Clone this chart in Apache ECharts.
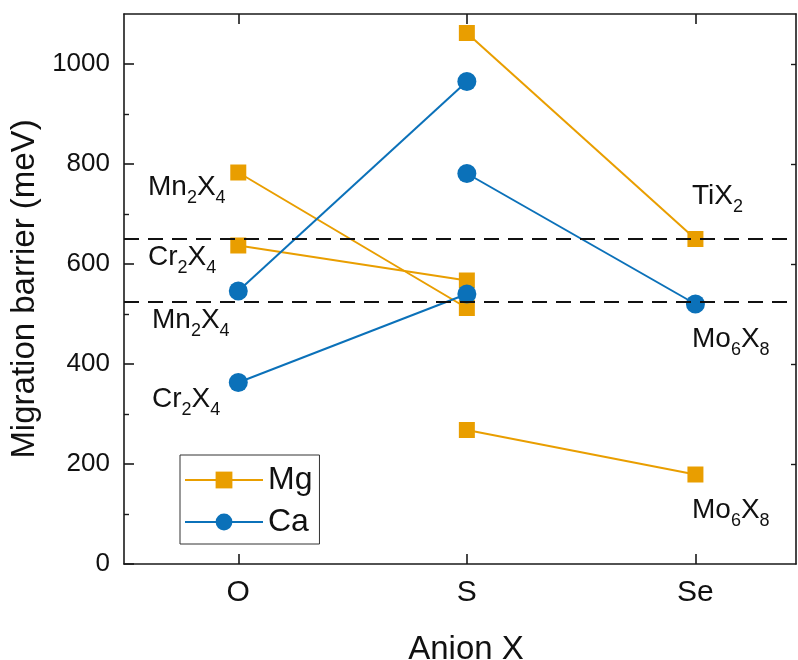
<!DOCTYPE html>
<html>
<head>
<meta charset="utf-8">
<script src="https://cdn.jsdelivr.net/npm/echarts@6/dist/echarts.min.js"></script>
<style>
  html, body { margin: 0; padding: 0; background: #fff; }
  #chart { width: 798px; height: 660px; }
</style>
</head>
<body>
<div id="chart"></div>
<script>
// ---- Data ----
const anions = ['O', 'S', 'Se'];
// Mg (squares)
const mgMn2X4 = [783, 512, null];
const mgCr2X4 = [637, 567, null];
const mgTiX2  = [null, 1062, 650];
const mgMo6X8 = [null, 268, 179];
// Ca (circles)
const caMn2X4 = [546, 965, null];
const caCr2X4 = [363, 540, null];
const caMo6X8 = [null, 781, 520];
// Dashed reference levels
const thresholds = [650, 525];
// Y tick labels
const yTickValues = [0, 200, 400, 600, 800, 1000];

const FONT = '"Liberation Sans", Arial, sans-serif';
const ORANGE = '#E99E00';
const BLUE = '#0B71B9';
const AXIS = '#1a1a1a';

function pts(arr) {
  const out = [];
  arr.forEach((v, i) => { if (v !== null) out.push([i + 1, v]); });
  return out;
}

function mgSeries(arr) {
  return {
    name: 'Mg', type: 'line', data: pts(arr),
    symbol: 'rect', symbolSize: 16,
    itemStyle: { color: ORANGE },
    lineStyle: { color: ORANGE, width: 2 },
    z: 3
  };
}
function caSeries(arr) {
  return {
    name: 'Ca', type: 'line', data: pts(arr),
    symbol: 'circle', symbolSize: 19,
    itemStyle: { color: BLUE },
    lineStyle: { color: BLUE, width: 2 },
    z: 4
  };
}

const subRich = {
  b: { fontSize: 28, fontFamily: FONT, color: '#111', verticalAlign: 'middle' },
  s: { fontSize: 18, fontFamily: FONT, color: '#111', padding: [22, 0, 0, 0], verticalAlign: 'middle' }
};
function label(text, x, y) {
  return {
    type: 'text', x: x, y: y, z: 100,
    style: { text: text, rich: subRich, align: 'left', verticalAlign: 'middle', font: '28px ' + FONT, fill: '#111' }
  };
}

const chart = echarts.init(document.getElementById('chart'), null, { renderer: 'canvas' });

const option = {
  animation: false,
  backgroundColor: '#fff',
  grid: { left: 124, right: 2, top: 14, bottom: 96, containLabel: false, outerBoundsMode: 'none' },
  legend: {
    data: ['Mg', 'Ca'],
    orient: 'vertical',
    left: 180, top: 455,
    padding: [9, 7, 6, 4],
    itemGap: 10,
    itemWidth: 78, itemHeight: 21,
    borderColor: '#333', borderWidth: 1,
    textStyle: { fontSize: 32, fontFamily: FONT, color: '#111' }
  },
  xAxis: [{
    type: 'value', min: 0.5, max: 3.44,
    name: 'Anion X', nameLocation: 'middle', nameGap: 69,
    nameTextStyle: { fontSize: 33, fontFamily: FONT, color: '#111', padding: [0, 0, 0, 12] },
    axisLine: { show: true, onZero: false, lineStyle: { color: AXIS, width: 1.6 } },
    axisTick: { show: true, inside: true, length: 10, customValues: [1, 2, 3], lineStyle: { color: AXIS, width: 1.6 } },
    axisLabel: { show: true, customValues: [1, 2, 3], margin: 14, fontSize: 30, fontFamily: FONT, color: '#111',
      formatter: v => anions[Math.round(v) - 1] || '' },
    splitLine: { show: false }
  }, {
    type: 'value', min: 0.5, max: 3.44, position: 'top',
    axisLine: { show: true, onZero: false, lineStyle: { color: AXIS, width: 1.6 } },
    axisTick: { show: true, inside: true, length: 10, customValues: [1, 2, 3], lineStyle: { color: AXIS, width: 1.6 } },
    axisLabel: { show: false },
    splitLine: { show: false }
  }],
  yAxis: [{
    type: 'value', min: 0, max: 1100, interval: 200,
    name: 'Migration barrier (meV)', nameLocation: 'middle', nameGap: 76,
    nameTextStyle: { fontSize: 33, fontFamily: FONT, color: '#111' },
    axisLine: { show: true, onZero: false, lineStyle: { color: AXIS, width: 1.6 } },
    axisTick: { show: true, inside: true, length: 10, customValues: yTickValues, lineStyle: { color: AXIS, width: 1.6 } },
    minorTick: { show: true, splitNumber: 2, length: 5, lineStyle: { color: AXIS, width: 1.4 } },
    axisLabel: { margin: 14, fontSize: 26, fontFamily: FONT, color: '#111',
      customValues: yTickValues, formatter: v => String(v) },
    splitLine: { show: false }
  }, {
    type: 'value', min: 0, max: 1100, interval: 200, position: 'right',
    axisLine: { show: true, onZero: false, lineStyle: { color: AXIS, width: 1.6 } },
    axisTick: { show: true, inside: true, length: 5, customValues: [200, 400, 600, 800, 1000], lineStyle: { color: AXIS, width: 1.4 } },
    axisLabel: { show: false },
    splitLine: { show: false }
  }],
  series: [
    mgSeries(mgMn2X4), mgSeries(mgCr2X4), mgSeries(mgTiX2), mgSeries(mgMo6X8),
    caSeries(caMn2X4), caSeries(caCr2X4), caSeries(caMo6X8),
    {
      name: 'levels', type: 'line', data: [], z: 10,
      markLine: {
        silent: true, symbol: 'none', z: 10,
        label: { show: false },
        lineStyle: { color: '#111', type: [15, 9], width: 2 },
        data: thresholds.map(v => ({ yAxis: v }))
      }
    }
  ],
  graphic: [
    label('{b|Mn}{s|2}{b|X}{s|4}', 148, 187),
    label('{b|Cr}{s|2}{b|X}{s|4}', 148, 257),
    label('{b|Mn}{s|2}{b|X}{s|4}', 152, 320),
    label('{b|Cr}{s|2}{b|X}{s|4}', 152, 399),
    label('{b|Ti}{b|X}{s|2}', 692, 196),
    label('{b|Mo}{s|6}{b|X}{s|8}', 692, 339),
    label('{b|Mo}{s|6}{b|X}{s|8}', 692, 510)
  ]
};

chart.setOption(option);
</script>
</body>
</html>
